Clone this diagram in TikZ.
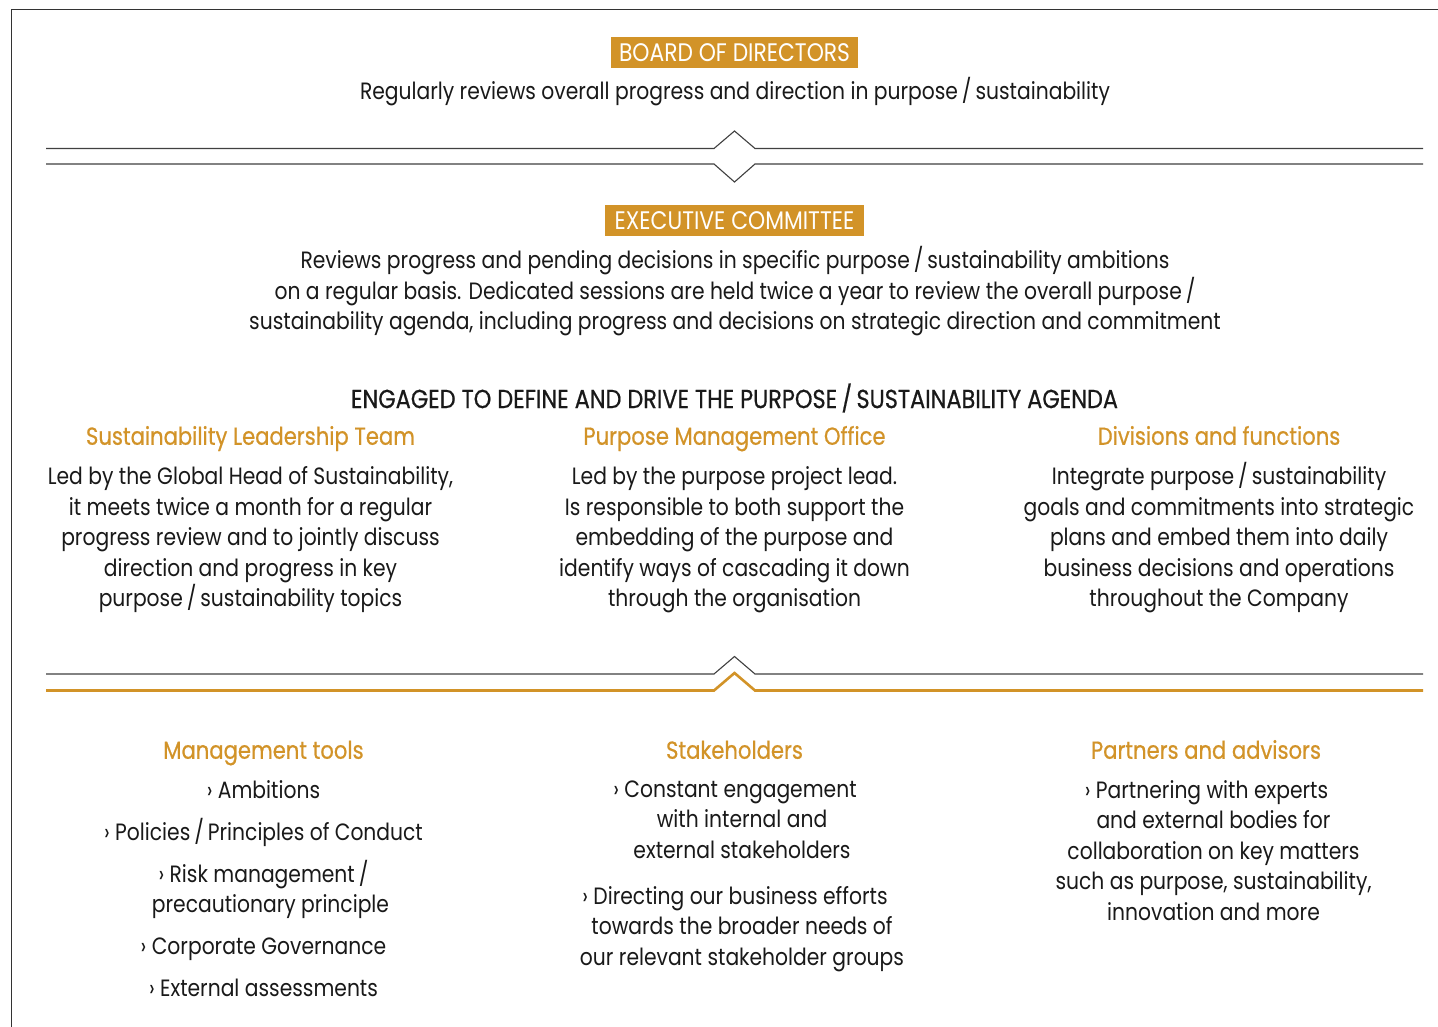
\documentclass[tikz,border=0pt]{standalone}
\usepackage{fontspec}
\setmainfont{Poppins}[FakeStretch=0.86]
\newfontfamily\headfont{Poppins}[FakeStretch=0.86,FakeBold=0.6]
\definecolor{gold}{RGB}{210,147,40}
\definecolor{ink}{RGB}{25,25,25}
\newcommand\fitsize[4]{\setbox0\hbox{#2\fontsize{10}{12}\selectfont #3}\pgfmathsetmacro#1{10*#4/\the\wd0}}
\newcommand\bl[1]{›~#1\hbox to 14pt{}}
\AtBeginDocument{%
\fitsize\bodysz{\rmfamily}{Regularly reviews overall progress and direction in purpose\,/\,sustainability}{750}%
\fitsize\headsz{\headfont}{Sustainability Leadership Team}{329}%
\fitsize\capsz{\rmfamily}{BOARD OF DIRECTORS}{231}%
\fitsize\engsz{\headfont}{ENGAGED TO DEFINE AND DRIVE THE PURPOSE\,/\,SUSTAINABILITY AGENDA}{767}%
}
\begin{document}
\begin{tikzpicture}[x=1pt,y=-1pt,
  body/.style={font=\fontsize{\bodysz}{30.5}\selectfont, text=ink, align=center, inner sep=0pt},
  head/.style={font=\headfont\fontsize{\headsz}{30}\selectfont, text=gold, inner sep=0pt, text height=0.8em, text depth=0.25em},
  tag/.style={fill=gold, text=white, font=\fontsize{\capsz}{30}\selectfont, inner sep=0pt, minimum height=31pt, minimum width=247pt},
  engaged/.style={font=\headfont\fontsize{\engsz}{30}\selectfont, text=ink, inner sep=0pt},
  divider/.style={draw=black!75, line width=1.1pt},
  goldline/.style={draw=gold, line width=2.6pt},
  frame/.style={draw=black!80, line width=1.4pt}]
\useasboundingbox (0,0) rectangle (1438,1027);
\fill[white] (0,0) rectangle (1438,1027);
% frame
\draw[frame] (11.5,1027) -- (11.5,9.5) -- (1438,9.5);
% dividers
\draw[divider] (46,148.5) -- (714,148.5) -- (734.5,131) -- (755,148.5) -- (1423,148.5);
\draw[divider] (46,164) -- (714,164) -- (734.5,182) -- (755,164) -- (1423,164);
\draw[divider] (46,674) -- (714,674) -- (734.5,656.5) -- (755,674) -- (1423,674);
\draw[goldline] (46,690.5) -- (714,690.5) -- (734.5,673) -- (755,690.5) -- (1423,690.5);
% board
\node[tag] (board) at (734.5,52.5) {BOARD OF DIRECTORS};
\node[body] (boardtxt) at (735,92) {Regularly reviews overall progress and direction in purpose\,/\,sustainability};
% executive committee
\node[tag, minimum width=259pt] (exec) at (734.5,220.5) {EXECUTIVE COMMITTEE};
\node[body] (exectxt) at (735,291.5) {Reviews progress and pending decisions in specific purpose\,/\,sustainability ambitions\\
on a regular basis. Dedicated sessions are held twice a year to review the overall purpose\,/\\
sustainability agenda, including progress and decisions on strategic direction and commitment};
% engaged
\node[engaged] (eng) at (734.5,398) {ENGAGED TO DEFINE AND DRIVE THE PURPOSE\,/\,SUSTAINABILITY AGENDA};
% three columns
\node[head] (slt) at (250.5,442) {Sustainability Leadership Team};
\node[body] (slttxt) at (250.5,540) {Led by the Global Head of Sustainability,\\ it meets twice a month for a regular\\ progress review and to jointly discuss\\ direction and progress in key\\ purpose\,/\,sustainability topics};
\node[head] (pmo) at (734.5,442) {Purpose Management Office};
\node[body] (pmotxt) at (734.5,540) {Led by the purpose project lead.\\ Is responsible to both support the\\ embedding of the purpose and\\ identify ways of cascading it down\\ through the organisation};
\node[head] (div) at (1219,442) {Divisions and functions};
\node[body] (divtxt) at (1219,538) {Integrate purpose\,/\,sustainability\\ goals and commitments into strategic\\ plans and embed them into daily\\ business decisions and operations\\ throughout the Company};
% bottom columns
\node[head] (mt) at (263.5,756) {Management tools};
\node[body] (mttxt) at (270.5,888.5) {\bl{Ambitions}\\[11.5pt] \bl{Policies\,/\,Principles of Conduct}\\[11.5pt] \bl{Risk management\,/}\\ precautionary principle\\[11.5pt] \bl{Corporate Governance}\\[11.5pt] \bl{External assessments}};
\node[head] (sh) at (734.5,756) {Stakeholders};
\node[body] (shtxt) at (742,876) {\bl{Constant engagement}\\ with internal and\\ external stakeholders\\[15.5pt] \bl{Directing our business efforts}\\ towards the broader needs of\\ our relevant stakeholder groups};
\node[head] (pa) at (1206,756) {Partners and advisors};
\node[body] (patxt) at (1213.5,850.5) {\bl{Partnering with experts}\\ and external bodies for\\ collaboration on key matters\\ such as purpose, sustainability,\\ innovation and more};
\end{tikzpicture}
\end{document}
